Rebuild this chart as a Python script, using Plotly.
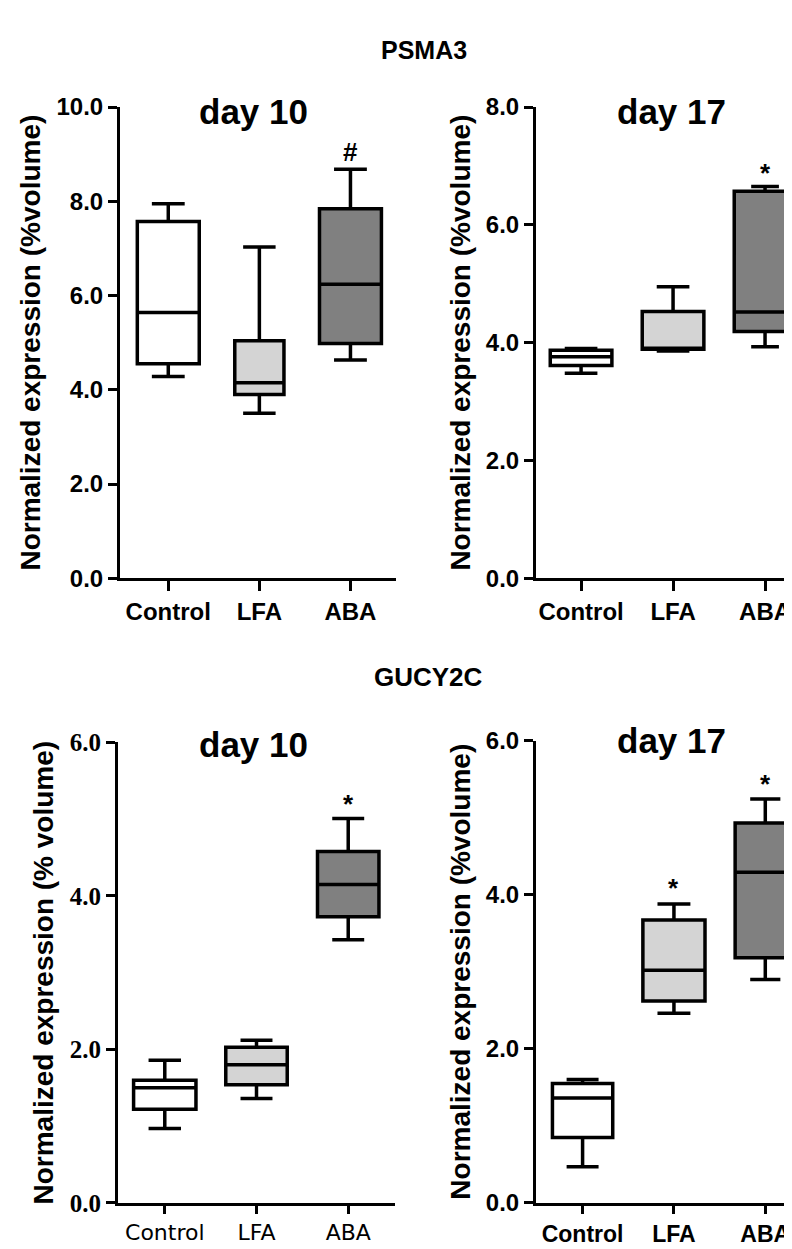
import plotly.graph_objects as go

W, H = 792, 1249

categories = ["Control", "LFA", "ABA"]
fills = ["#ffffff", "#d4d4d4", "#808080"]

# PSMA3 day 10
psma3_d10_low = [4.28, 3.50, 4.63]
psma3_d10_q1 = [4.55, 3.90, 4.98]
psma3_d10_med = [5.64, 4.15, 6.24]
psma3_d10_q3 = [7.57, 5.04, 7.84]
psma3_d10_up = [7.95, 7.03, 8.68]

# PSMA3 day 17
psma3_d17_low = [3.48, 3.86, 3.93]
psma3_d17_q1 = [3.61, 3.89, 4.19]
psma3_d17_med = [3.76, 3.89, 4.52]
psma3_d17_q3 = [3.87, 4.53, 6.57]
psma3_d17_up = [3.90, 4.95, 6.65]

# GUCY2C day 10
gucy_d10_low = [0.97, 1.36, 3.43]
gucy_d10_q1 = [1.22, 1.54, 3.73]
gucy_d10_med = [1.50, 1.80, 4.15]
gucy_d10_q3 = [1.60, 2.03, 4.58]
gucy_d10_up = [1.86, 2.12, 5.01]

# GUCY2C day 17
gucy_d17_low = [0.47, 2.46, 2.90]
gucy_d17_q1 = [0.85, 2.62, 3.18]
gucy_d17_med = [1.36, 3.02, 4.29]
gucy_d17_q3 = [1.55, 3.67, 4.93]
gucy_d17_up = [1.60, 3.88, 5.24]

# significance marks: (panel, category, y, text)
mark_panels = [1, 2, 3, 4, 4]
mark_cats = ["ABA", "ABA", "ABA", "LFA", "ABA"]
mark_y = [9.05, 6.88, 5.20, 4.08, 5.44]
mark_text = ["#", "*", "*", "*", "*"]

ytitle = "Normalized expression (%volume)"
ytitle_bl = "Normalized expression (% volume)"

SANS = "Liberation Sans, Arial, sans-serif"
SERIF = "Liberation Serif, Times New Roman, serif"
DEJAVU = "DejaVu Sans, Verdana, sans-serif"

panels = [
    dict(low=psma3_d10_low, q1=psma3_d10_q1, med=psma3_d10_med, q3=psma3_d10_q3, up=psma3_d10_up,
         widths=[0.68, 0.54, 0.68], ww=[0.53, 0.66, 0.53],
         xpx=(112, 388), ypx=(87, 569), xr=[-0.53, 2.5], yr=[0, 10], dt=2,
         title=ytitle, day="day 10", daypos=(245, 92),
         ytf=dict(family=SANS, size=24, weight="bold"), xtf=dict(family=SANS, size=24, weight="bold"), xtl=10),
    dict(low=psma3_d17_low, q1=psma3_d17_q1, med=psma3_d17_med, q3=psma3_d17_q3, up=psma3_d17_up,
         widths=[0.67, 0.67, 0.67], ww=[0.53, 0.53, 0.45],
         xpx=(528, 792), ypx=(87, 569), xr=[-0.49, 2.38], yr=[0, 8], dt=2,
         title=ytitle, day="day 17", daypos=(663, 92),
         ytf=dict(family=SANS, size=24, weight="bold"), xtf=dict(family=SANS, size=24, weight="bold"), xtl=10),
    dict(low=gucy_d10_low, q1=gucy_d10_q1, med=gucy_d10_med, q3=gucy_d10_q3, up=gucy_d10_up,
         widths=[0.68, 0.67, 0.67], ww=[0.52, 0.52, 0.52],
         xpx=(110, 387), ypx=(737, 1208), xr=[-0.51, 2.51], yr=[0, 6], dt=2,
         title=ytitle_bl, day="day 10", daypos=(245, 739),
         ytf=dict(family=SERIF, size=25, weight="bold"), xtf=dict(family=DEJAVU, size=22, weight="normal"), xtl=8),
    dict(low=gucy_d17_low, q1=gucy_d17_q1, med=gucy_d17_med, q3=gucy_d17_q3, up=gucy_d17_up,
         widths=[0.66, 0.68, 0.66], ww=[0.53, 0.53, 0.5],
         xpx=(528, 792), ypx=(735, 1208), xr=[-0.51, 2.38], yr=[0, 6], dt=2,
         title=ytitle, day="day 17", daypos=(663, 735),
         ytf=dict(family=SANS, size=24, weight="bold"), xtf=dict(family=SANS, size=23, weight="bold"), xtl=8),
]

fig = go.Figure()
layout = dict(
    width=W, height=H, margin=dict(l=0, r=0, t=0, b=0),
    paper_bgcolor="white", plot_bgcolor="white", showlegend=False,
    boxmode="overlay", font=dict(family=SANS, color="black"),
)
annotations = []

for i, p in enumerate(panels, start=1):
    xa = "x" if i == 1 else f"x{i}"
    ya = "y" if i == 1 else f"y{i}"
    for j, cat in enumerate(categories):
        fig.add_trace(go.Box(
            x=[cat], q1=[p["q1"][j]], median=[p["med"][j]], q3=[p["q3"][j]],
            lowerfence=[p["low"][j]], upperfence=[p["up"][j]],
            width=p["widths"][j], whiskerwidth=p["ww"][j],
            fillcolor=fills[j], line=dict(color="black", width=3.5),
            boxpoints=False, hoverinfo="skip",
            xaxis=xa, yaxis=ya,
        ))
    x0, x1 = p["xpx"]
    yt, yb = p["ypx"]
    key = "" if i == 1 else str(i)
    layout["xaxis" + key] = dict(
        domain=[x0 / W, x1 / W], anchor=ya, type="category",
        categoryorder="array", categoryarray=categories, range=p["xr"],
        showline=True, linecolor="black", linewidth=3, ticks="outside",
        ticklen=p["xtl"], tickwidth=3, tickcolor="black", showgrid=False, zeroline=False,
        tickfont=dict(color="black", **p["xtf"]),
    )
    layout["yaxis" + key] = dict(
        domain=[1 - yb / H, 1 - yt / H], anchor=xa, range=p["yr"],
        tickmode="linear", tick0=0, dtick=p["dt"], tickformat=".1f",
        showline=True, linecolor="black", linewidth=3, ticks="outside",
        ticklen=9, tickwidth=3, tickcolor="black", showgrid=False, zeroline=False,
        tickfont=dict(color="black", **p["ytf"]),
        title=dict(text=p["title"], standoff=8,
                   font=dict(family=SANS, size=28, color="black", weight="bold")),
    )
    annotations.append(dict(
        text=p["day"], x=p["daypos"][0] / W, y=1 - p["daypos"][1] / H,
        xref="paper", yref="paper", showarrow=False, xanchor="center", yanchor="middle",
        font=dict(family=SANS, size=35, color="black", weight="bold"),
    ))

for pn, cat, yv, t in zip(mark_panels, mark_cats, mark_y, mark_text):
    xa = "x" if pn == 1 else f"x{pn}"
    ya = "y" if pn == 1 else f"y{pn}"
    annotations.append(dict(
        text=t, x=cat, y=yv, xref=xa, yref=ya, showarrow=False,
        xanchor="center", yanchor="middle",
        font=dict(family=SANS, size=26, color="black", weight="bold"),
    ))

annotations.append(dict(text="PSMA3", x=416 / W, y=1 - 29 / H, xref="paper", yref="paper",
                        showarrow=False, xanchor="center", yanchor="middle",
                        font=dict(family=SANS, size=25, color="black", weight="bold")))
annotations.append(dict(text="GUCY2C", x=420 / W, y=1 - 670 / H, xref="paper", yref="paper",
                        showarrow=False, xanchor="center", yanchor="middle",
                        font=dict(family=SANS, size=26, color="black", weight="bold")))

layout["annotations"] = annotations
fig.update_layout(**layout)
fig.write_html("out.html")
